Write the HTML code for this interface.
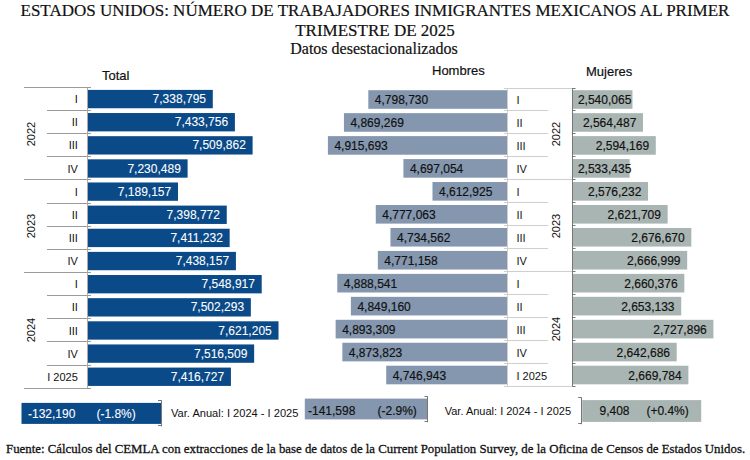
<!DOCTYPE html>
<html><head><meta charset="utf-8">
<style>
html,body{margin:0;padding:0;background:#fff;}
body{width:750px;height:460px;position:relative;overflow:hidden;font-family:"Liberation Sans",sans-serif;color:#111;}
svg{position:absolute;left:0;top:0;}
.a{position:absolute;white-space:nowrap;}
.s{font-family:"Liberation Serif",serif;}
.n{font-size:12px;line-height:14px;-webkit-text-stroke:0.18px currentColor;}
.w{color:#fff;-webkit-text-stroke:0.08px #fff;}
.h{font-size:13px;line-height:15px;-webkit-text-stroke:0.2px currentColor;}
.m{font-size:11px;line-height:14px;}
.yr{position:absolute;font-size:11px;line-height:14px;transform:rotate(-90deg);transform-origin:center center;width:40px;text-align:center;}
</style></head><body>
<svg width="750" height="460" viewBox="0 0 750 460" shape-rendering="geometricPrecision">
<rect x="87.9" y="89.9" width="124.9" height="18.35" fill="#0b4a88"/>
<rect x="368.3" y="90.2" width="138.7" height="18.6" fill="#8497af"/>
<rect x="572.5" y="90.2" width="59.97" height="18.6" fill="#a9b5b3"/>
<rect x="87.9" y="113.04" width="147.0" height="18.35" fill="#0b4a88"/>
<rect x="343.94" y="113.16" width="163.06" height="18.6" fill="#8497af"/>
<rect x="572.5" y="113.16" width="70.5" height="18.6" fill="#a9b5b3"/>
<rect x="87.9" y="136.18" width="164.71" height="18.35" fill="#0b4a88"/>
<rect x="327.9" y="136.12" width="179.1" height="18.6" fill="#8497af"/>
<rect x="572.5" y="136.12" width="83.29" height="18.6" fill="#a9b5b3"/>
<rect x="87.9" y="159.32" width="99.7" height="18.35" fill="#0b4a88"/>
<rect x="403.42" y="159.08" width="103.58" height="18.6" fill="#8497af"/>
<rect x="572.5" y="159.08" width="57.12" height="18.6" fill="#a9b5b3"/>
<rect x="87.9" y="182.46" width="90.08" height="18.35" fill="#0b4a88"/>
<rect x="432.48" y="182.04" width="74.52" height="18.6" fill="#8497af"/>
<rect x="572.5" y="182.04" width="75.56" height="18.6" fill="#a9b5b3"/>
<rect x="87.9" y="205.6" width="138.86" height="18.35" fill="#0b4a88"/>
<rect x="375.78" y="205.0" width="131.22" height="18.6" fill="#8497af"/>
<rect x="572.5" y="205.0" width="95.16" height="18.6" fill="#a9b5b3"/>
<rect x="87.9" y="228.74" width="141.76" height="18.35" fill="#0b4a88"/>
<rect x="390.46" y="227.96" width="116.54" height="18.6" fill="#8497af"/>
<rect x="572.5" y="227.96" width="118.85" height="18.6" fill="#a9b5b3"/>
<rect x="87.9" y="251.88" width="148.02" height="18.35" fill="#0b4a88"/>
<rect x="377.82" y="250.92" width="129.18" height="18.6" fill="#8497af"/>
<rect x="572.5" y="250.92" width="114.68" height="18.6" fill="#a9b5b3"/>
<rect x="87.9" y="275.02" width="173.8" height="18.35" fill="#0b4a88"/>
<rect x="337.28" y="273.88" width="169.72" height="18.6" fill="#8497af"/>
<rect x="572.5" y="273.88" width="111.83" height="18.6" fill="#a9b5b3"/>
<rect x="87.9" y="298.16" width="162.95" height="18.35" fill="#0b4a88"/>
<rect x="350.88" y="296.84" width="156.12" height="18.6" fill="#8497af"/>
<rect x="572.5" y="296.84" width="108.71" height="18.6" fill="#a9b5b3"/>
<rect x="87.9" y="321.3" width="190.62" height="18.35" fill="#0b4a88"/>
<rect x="335.63" y="319.8" width="171.37" height="18.6" fill="#8497af"/>
<rect x="572.5" y="319.8" width="140.93" height="18.6" fill="#a9b5b3"/>
<rect x="87.9" y="344.44" width="166.25" height="18.35" fill="#0b4a88"/>
<rect x="342.36" y="342.76" width="164.64" height="18.6" fill="#8497af"/>
<rect x="572.5" y="342.76" width="104.2" height="18.6" fill="#a9b5b3"/>
<rect x="87.9" y="367.58" width="143.03" height="18.35" fill="#0b4a88"/>
<rect x="386.19" y="365.72" width="120.81" height="18.6" fill="#8497af"/>
<rect x="572.5" y="365.72" width="115.88" height="18.6" fill="#a9b5b3"/>
<rect x="24" y="87" width="67" height="1" fill="#9a9a9a"/>
<rect x="504" y="88" width="71" height="1" fill="#cfcfcf"/>
<rect x="572.5" y="88" width="3.0" height="1" fill="#777"/>
<rect x="47" y="110" width="44" height="1" fill="#9a9a9a"/>
<rect x="504" y="110" width="44" height="1" fill="#cfcfcf"/>
<rect x="572.5" y="110" width="3.0" height="1" fill="#777"/>
<rect x="47" y="133" width="44" height="1" fill="#9a9a9a"/>
<rect x="504" y="133" width="44" height="1" fill="#cfcfcf"/>
<rect x="572.5" y="133" width="3.0" height="1" fill="#777"/>
<rect x="47" y="156" width="44" height="1" fill="#9a9a9a"/>
<rect x="504" y="156" width="44" height="1" fill="#cfcfcf"/>
<rect x="572.5" y="156" width="3.0" height="1" fill="#777"/>
<rect x="24" y="179" width="67" height="1" fill="#9a9a9a"/>
<rect x="504" y="179" width="71" height="1" fill="#cfcfcf"/>
<rect x="572.5" y="179" width="3.0" height="1" fill="#777"/>
<rect x="47" y="203" width="44" height="1" fill="#9a9a9a"/>
<rect x="504" y="202" width="44" height="1" fill="#cfcfcf"/>
<rect x="572.5" y="202" width="3.0" height="1" fill="#777"/>
<rect x="47" y="226" width="44" height="1" fill="#9a9a9a"/>
<rect x="504" y="225" width="44" height="1" fill="#cfcfcf"/>
<rect x="572.5" y="225" width="3.0" height="1" fill="#777"/>
<rect x="47" y="249" width="44" height="1" fill="#9a9a9a"/>
<rect x="504" y="248" width="44" height="1" fill="#cfcfcf"/>
<rect x="572.5" y="248" width="3.0" height="1" fill="#777"/>
<rect x="24" y="272" width="67" height="1" fill="#9a9a9a"/>
<rect x="504" y="271" width="71" height="1" fill="#cfcfcf"/>
<rect x="572.5" y="271" width="3.0" height="1" fill="#777"/>
<rect x="47" y="295" width="44" height="1" fill="#9a9a9a"/>
<rect x="504" y="294" width="44" height="1" fill="#cfcfcf"/>
<rect x="572.5" y="294" width="3.0" height="1" fill="#777"/>
<rect x="47" y="318" width="44" height="1" fill="#9a9a9a"/>
<rect x="504" y="317" width="44" height="1" fill="#cfcfcf"/>
<rect x="572.5" y="317" width="3.0" height="1" fill="#777"/>
<rect x="47" y="341" width="44" height="1" fill="#9a9a9a"/>
<rect x="504" y="340" width="44" height="1" fill="#cfcfcf"/>
<rect x="572.5" y="340" width="3.0" height="1" fill="#777"/>
<rect x="47" y="365" width="44" height="1" fill="#9a9a9a"/>
<rect x="504" y="363" width="44" height="1" fill="#cfcfcf"/>
<rect x="572.5" y="363" width="3.0" height="1" fill="#777"/>
<rect x="24" y="388" width="67" height="1" fill="#9a9a9a"/>
<rect x="504" y="386" width="71" height="1" fill="#cfcfcf"/>
<rect x="572.5" y="386" width="3.0" height="1" fill="#777"/>
<rect x="87" y="87.4" width="1" height="300.82" fill="#aaaaaa"/>
<rect x="507" y="88.0" width="1" height="298.48" fill="#cfcfcf"/>
<rect x="572" y="88.0" width="1" height="298.48" fill="#777"/>
<rect x="21.5" y="402.9" width="139.7" height="21.0" fill="#0b4a88"/>
<rect x="161" y="400.2" width="1" height="26.2" fill="#777"/>
<rect x="158" y="400" width="3.6" height="1" fill="#777"/>
<rect x="158" y="425" width="3.6" height="1" fill="#777"/>
<rect x="304.8" y="398.6" width="122.9" height="20.8" fill="#8497af"/>
<rect x="427" y="396.2" width="1" height="26.0" fill="#777"/>
<rect x="424.5" y="396" width="3.1" height="1" fill="#777"/>
<rect x="424.5" y="421" width="3.1" height="1" fill="#777"/>
<rect x="582.2" y="400.1" width="119.0" height="21.8" fill="#a9b5b3"/>
<rect x="581" y="397.3" width="1" height="26.9" fill="#777"/>
<rect x="578.2" y="397" width="3.3" height="1" fill="#777"/>
<rect x="578.2" y="423" width="3.3" height="1" fill="#777"/>
</svg>
<div class="a s" style="left:0;width:750px;text-align:center;top:2px;font-size:17px;line-height:18px;color:#111;-webkit-text-stroke:0.2px #111;">ESTADOS UNIDOS: NÚMERO DE TRABAJADORES INMIGRANTES MEXICANOS AL PRIMER</div>
<div class="a s" style="left:0;width:750px;text-align:center;top:21.5px;font-size:17px;line-height:18px;color:#111;-webkit-text-stroke:0.2px #111;">TRIMESTRE DE 2025</div>
<div class="a s" style="left:-1px;width:750px;text-align:center;top:40.8px;font-size:16px;line-height:16px;color:#111;-webkit-text-stroke:0.2px #111;">Datos desestacionalizados</div>
<div class="a h" style="left:102px;top:68px;">Total</div>
<div class="a h" style="left:432px;top:63px;">Hombres</div>
<div class="a h" style="left:586px;top:64px;">Mujeres</div>
<div class="a n w" style="right:544.0px;top:92.12px;">7,338,795</div>
<div class="a m" style="right:672.2px;top:92.12px;">I</div>
<div class="a n" style="left:374.8px;top:93.03px;">4,798,730</div>
<div class="a m" style="left:516.5px;top:93.03px;">I</div>
<div class="a n" style="right:118.7px;top:93.03px;">2,540,065</div>
<div class="a n w" style="right:521.9px;top:115.26px;">7,433,756</div>
<div class="a m" style="right:672.2px;top:115.26px;">II</div>
<div class="a n" style="left:350.44px;top:115.99px;">4,869,269</div>
<div class="a m" style="left:516.5px;top:115.99px;">II</div>
<div class="a n" style="right:113.7px;top:115.99px;">2,564,487</div>
<div class="a n w" style="right:504.19px;top:138.4px;">7,509,862</div>
<div class="a m" style="right:672.2px;top:138.4px;">III</div>
<div class="a n" style="left:334.4px;top:138.95px;">4,915,693</div>
<div class="a m" style="left:516.5px;top:138.95px;">III</div>
<div class="a n" style="right:100.91px;top:138.95px;">2,594,169</div>
<div class="a n w" style="right:569.2px;top:161.54px;">7,230,489</div>
<div class="a m" style="right:672.2px;top:161.54px;">IV</div>
<div class="a n" style="left:409.92px;top:161.91px;">4,697,054</div>
<div class="a m" style="left:516.5px;top:161.91px;">IV</div>
<div class="a n" style="right:118.7px;top:161.91px;">2,533,435</div>
<div class="a n w" style="right:578.82px;top:184.68px;">7,189,157</div>
<div class="a m" style="right:672.2px;top:184.68px;">I</div>
<div class="a n" style="left:438.98px;top:184.87px;">4,612,925</div>
<div class="a m" style="left:516.5px;top:184.87px;">I</div>
<div class="a n" style="right:108.64px;top:184.87px;">2,576,232</div>
<div class="a n w" style="right:530.04px;top:207.82px;">7,398,772</div>
<div class="a m" style="right:672.2px;top:207.82px;">II</div>
<div class="a n" style="left:382.28px;top:207.83px;">4,777,063</div>
<div class="a m" style="left:516.5px;top:207.83px;">II</div>
<div class="a n" style="right:89.04px;top:207.83px;">2,621,709</div>
<div class="a n w" style="right:527.14px;top:230.96px;">7,411,232</div>
<div class="a m" style="right:672.2px;top:230.96px;">III</div>
<div class="a n" style="left:396.96px;top:230.79px;">4,734,562</div>
<div class="a m" style="left:516.5px;top:230.79px;">III</div>
<div class="a n" style="right:65.35px;top:230.79px;">2,676,670</div>
<div class="a n w" style="right:520.88px;top:254.1px;">7,438,157</div>
<div class="a m" style="right:672.2px;top:254.1px;">IV</div>
<div class="a n" style="left:384.32px;top:253.75px;">4,771,158</div>
<div class="a m" style="left:516.5px;top:253.75px;">IV</div>
<div class="a n" style="right:69.52px;top:253.75px;">2,666,999</div>
<div class="a n w" style="right:495.1px;top:277.24px;">7,548,917</div>
<div class="a m" style="right:672.2px;top:277.24px;">I</div>
<div class="a n" style="left:343.78px;top:276.71px;">4,888,541</div>
<div class="a m" style="left:516.5px;top:276.71px;">I</div>
<div class="a n" style="right:72.37px;top:276.71px;">2,660,376</div>
<div class="a n w" style="right:505.95px;top:300.38px;">7,502,293</div>
<div class="a m" style="right:672.2px;top:300.38px;">II</div>
<div class="a n" style="left:357.38px;top:299.67px;">4,849,160</div>
<div class="a m" style="left:516.5px;top:299.67px;">II</div>
<div class="a n" style="right:75.49px;top:299.67px;">2,653,133</div>
<div class="a n w" style="right:478.28px;top:323.52px;">7,621,205</div>
<div class="a m" style="right:672.2px;top:323.52px;">III</div>
<div class="a n" style="left:342.13px;top:322.63px;">4,893,309</div>
<div class="a m" style="left:516.5px;top:322.63px;">III</div>
<div class="a n" style="right:43.27px;top:322.63px;">2,727,896</div>
<div class="a n w" style="right:502.65px;top:346.66px;">7,516,509</div>
<div class="a m" style="right:672.2px;top:346.66px;">IV</div>
<div class="a n" style="left:348.86px;top:345.59px;">4,873,823</div>
<div class="a m" style="left:516.5px;top:345.59px;">IV</div>
<div class="a n" style="right:80.0px;top:345.59px;">2,642,686</div>
<div class="a n w" style="right:525.87px;top:369.8px;">7,416,727</div>
<div class="a m" style="right:672.2px;top:369.8px;">I 2025</div>
<div class="a n" style="left:392.69px;top:368.55px;">4,746,943</div>
<div class="a m" style="left:516.5px;top:368.55px;">I 2025</div>
<div class="a n" style="right:68.32px;top:368.55px;">2,669,784</div>
<div class="yr" style="left:11px;top:126.68px;">2022</div>
<div class="yr" style="left:535.5px;top:126.92px;">2022</div>
<div class="yr" style="left:11px;top:219.24px;">2023</div>
<div class="yr" style="left:535.5px;top:218.76px;">2023</div>
<div class="yr" style="left:11px;top:323.37px;">2024</div>
<div class="yr" style="left:535.5px;top:322.08px;">2024</div>
<div class="a n w" style="left:28px;top:406.5px;">-132,190</div>
<div class="a n w" style="left:96.4px;top:406.5px;">(-1.8%)</div>
<div class="a" style="left:171px;top:406px;font-size:11.1px;line-height:14px;">Var. Anual: I 2024 - I 2025</div>
<div class="a n" style="left:308px;top:404px;">-141,598</div>
<div class="a n" style="left:377.5px;top:404px;">(-2.9%)</div>
<div class="a" style="left:444.7px;top:404px;font-size:11px;line-height:14px;">Var. Anual: I 2024 - I 2025</div>
<div class="a n" style="left:599.5px;top:404.3px;">9,408</div>
<div class="a n" style="left:646.4px;top:404.3px;">(+0.4%)</div>
<div class="a s" style="left:6px;top:441.3px;font-size:12.84px;line-height:16px;color:#111;-webkit-text-stroke:0.3px #111;">Fuente: Cálculos del CEMLA con extracciones de la base de datos de la Current Population Survey, de la Oficina de Censos de Estados Unidos.</div>
</body></html>
